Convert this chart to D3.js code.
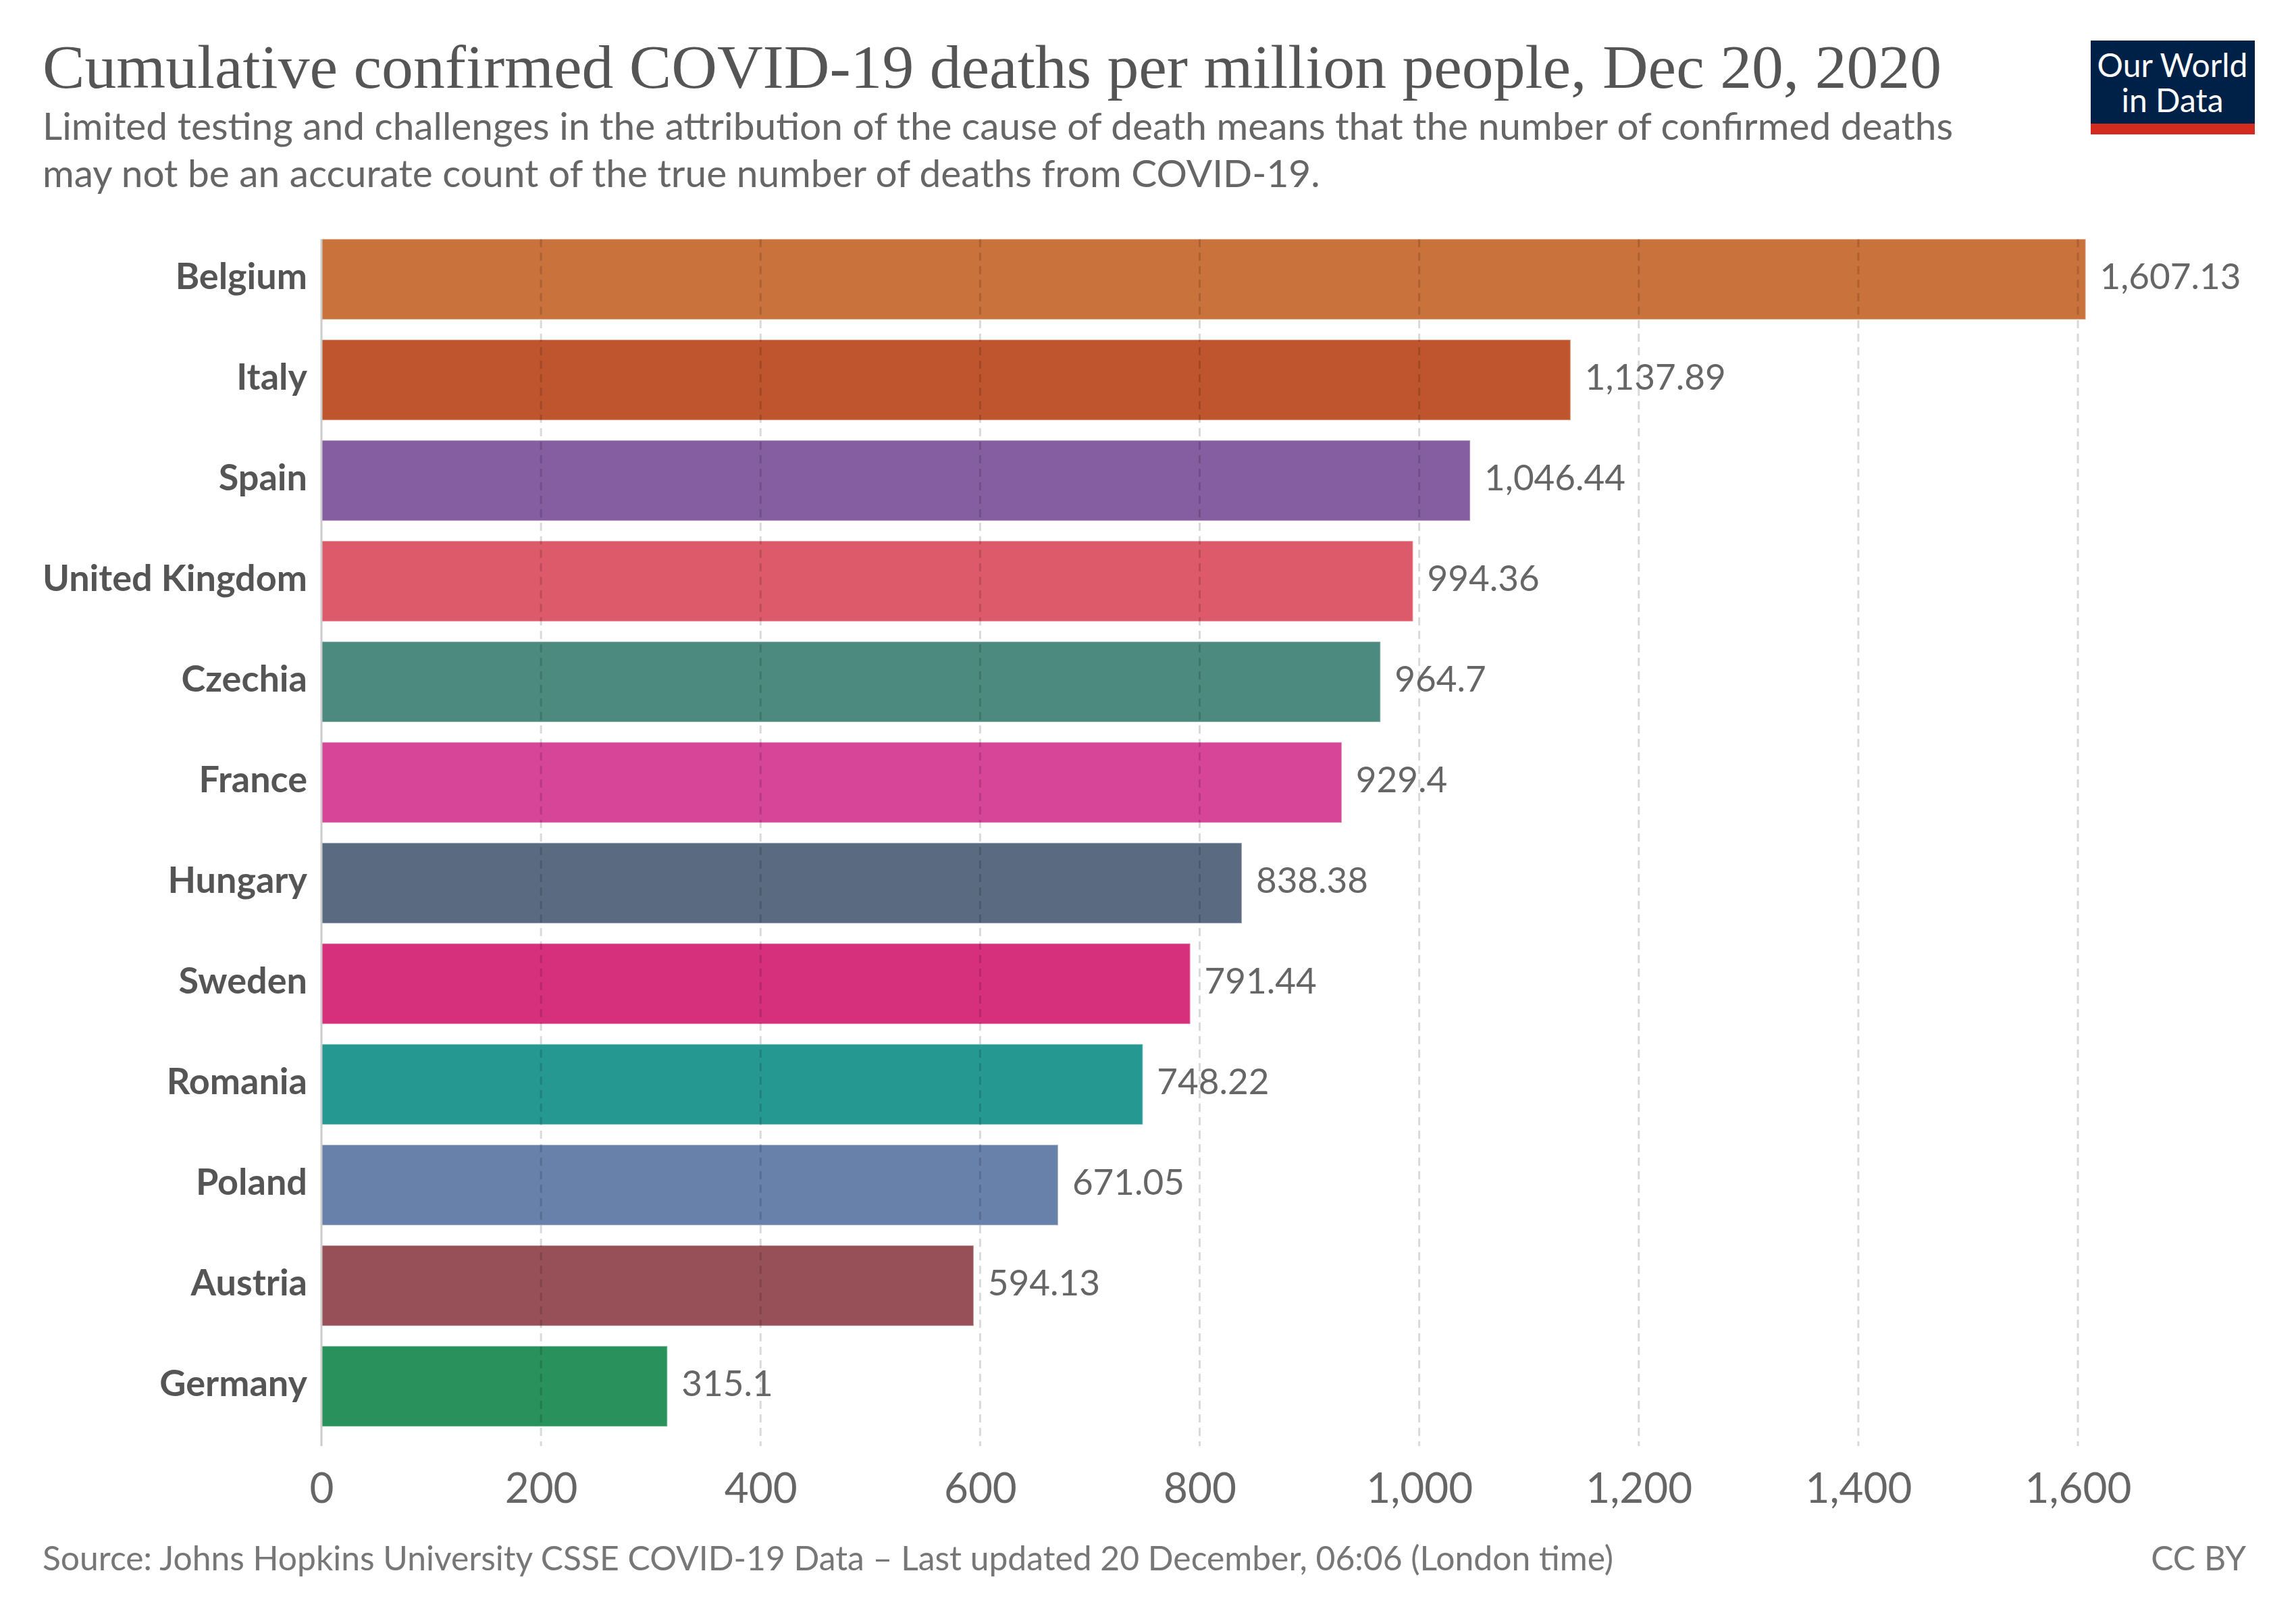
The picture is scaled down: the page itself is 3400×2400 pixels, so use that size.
<!DOCTYPE html>
<html>
<head>
<meta charset="utf-8">
<script src="https://cdn.jsdelivr.net/npm/d3@7/dist/d3.min.js"></script>
<style>
  html, body { margin: 0; padding: 0; background: #fff; }
  svg { display: block; }
</style>
</head>
<body>
<svg id="chart" width="3400" height="2400"></svg>
<script>
// ---- Data ----
const countries = ["Belgium", "Italy", "Spain", "United Kingdom", "Czechia", "France",
  "Hungary", "Sweden", "Romania", "Poland", "Austria", "Germany"];
const deathsPerMillion = [1607.13, 1137.89, 1046.44, 994.36, 964.7, 929.4,
  838.38, 791.44, 748.22, 671.05, 594.13, 315.1];
const valueLabels = ["1,607.13", "1,137.89", "1,046.44", "994.36", "964.7", "929.4",
  "838.38", "791.44", "748.22", "671.05", "594.13", "315.1"];
const barColors = ["#CA723C", "#BE552E", "#855EA1", "#DD5A6A", "#4C8A7F", "#D64597",
  "#5A6A80", "#D62F7C", "#269892", "#6881AA", "#975057", "#29915B"];
const xTicks = [0, 200, 400, 600, 800, 1000, 1200, 1400, 1600];

const titleText = "Cumulative confirmed COVID-19 deaths per million people, Dec 20, 2020";
const subtitleLines = [
  "Limited testing and challenges in the attribution of the cause of death means that the number of confirmed deaths",
  "may not be an accurate count of the true number of deaths from COVID-19."
];
const logoLines = ["Our World", "in Data"];
const sourceText = "Source: Johns Hopkins University CSSE COVID-19 Data – Last updated 20 December, 06:06 (London time)";
const licenseText = "CC BY";

// ---- Layout ----
const svg = d3.select("#chart");
const x = d3.scaleLinear().domain([0, 1600]).range([476, 3077]);
const y = d3.scaleBand().domain(countries).range([339, 2127]).paddingInner(0.2).paddingOuter(0.1);
const gridTop = y(countries[0]);
const gridBottom = 2141;

// Title
svg.append("text")
  .attr("x", 63).attr("y", 130)
  .attr("font-family", "'Liberation Serif', 'DejaVu Serif', serif")
  .attr("font-size", 92)
  .attr("fill", "#555")
  .attr("textLength", 2812)
  .attr("lengthAdjust", "spacingAndGlyphs")
  .text(titleText);

svg.selectAll("text.subtitle").data(subtitleLines).enter().append("text")
  .attr("class", "subtitle")
  .attr("x", 63).attr("y", (d, i) => 207 + i * 70)
  .attr("font-family", "Lato, sans-serif")
  .attr("font-size", 56.8)
  .attr("fill", "#666")
  .text(d => d);

// Logo
const logo = svg.append("g");
logo.append("rect").attr("x", 3096).attr("y", 60).attr("width", 243).attr("height", 124).attr("fill", "#002147");
logo.append("rect").attr("x", 3096).attr("y", 183).attr("width", 243).attr("height", 16).attr("fill", "#d42b21");
const logoText = logo.append("text")
  .attr("text-anchor", "middle")
  .attr("font-family", "Lato, sans-serif")
  .attr("font-size", 48)
  .attr("fill", "#fff");
logoText.selectAll("tspan").data(logoLines).enter().append("tspan")
  .attr("x", 3217).attr("y", (d, i) => 114 + i * 52)
  .text(d => d);

// Bars
svg.selectAll("rect.bar").data(countries).enter().append("rect")
  .attr("class", "bar")
  .attr("x", x(0))
  .attr("y", d => y(d))
  .attr("width", (d, i) => x(deathsPerMillion[i]) - x(0))
  .attr("height", y.bandwidth())
  .attr("fill", (d, i) => barColors[i])
  .attr("stroke", "#fff").attr("stroke-opacity", 0.35).attr("stroke-width", 2);

// Grid lines (drawn over bars, semi-transparent)
svg.selectAll("line.grid").data(xTicks.filter(t => t > 0)).enter().append("line")
  .attr("class", "grid")
  .attr("x1", d => x(d)).attr("x2", d => x(d))
  .attr("y1", gridTop).attr("y2", gridBottom)
  .attr("stroke", "#000").attr("stroke-opacity", 0.15)
  .attr("stroke-width", 3)
  .attr("stroke-dasharray", "12,8");

// Zero line
svg.append("line")
  .attr("x1", x(0)).attr("x2", x(0))
  .attr("y1", gridTop).attr("y2", gridBottom)
  .attr("stroke", "#ccc").attr("stroke-width", 3);

// Category labels
svg.selectAll("text.cat").data(countries).enter().append("text")
  .attr("class", "cat")
  .attr("x", 455)
  .attr("y", d => y(d) + y.bandwidth() / 2 + 14.5)
  .attr("text-anchor", "end")
  .attr("font-family", "Lato, sans-serif")
  .attr("font-weight", "bold")
  .attr("font-size", 54)
  .attr("fill", "#555")
  .text(d => d);

// Value labels
svg.selectAll("text.val").data(countries).enter().append("text")
  .attr("class", "val")
  .attr("x", (d, i) => x(deathsPerMillion[i]) + 21)
  .attr("y", d => y(d) + y.bandwidth() / 2 + 14.5)
  .attr("font-family", "Lato, sans-serif")
  .attr("font-size", 53)
  .attr("fill", "#666")
  .text((d, i) => valueLabels[i]);

// X axis tick labels
const xAxis = d3.axisBottom(x).tickValues(xTicks).tickSize(0).tickPadding(0)
  .tickFormat(d3.format(","));
const axisG = svg.append("g").attr("transform", "translate(0,2225)").call(xAxis);
axisG.select(".domain").remove();
axisG.selectAll("text")
  .attr("y", 0).attr("dy", 0)
  .attr("font-family", "Lato, sans-serif")
  .attr("font-size", 62)
  .attr("fill", "#666");

// Footer
svg.append("text")
  .attr("x", 63).attr("y", 2325)
  .attr("font-family", "Lato, sans-serif")
  .attr("font-size", 49.8)
  .attr("fill", "#777")
  .text(sourceText);
svg.append("text")
  .attr("x", 3326).attr("y", 2325)
  .attr("text-anchor", "end")
  .attr("font-family", "Lato, sans-serif")
  .attr("font-size", 49.8)
  .attr("fill", "#777")
  .text(licenseText);
</script>
</body>
</html>
